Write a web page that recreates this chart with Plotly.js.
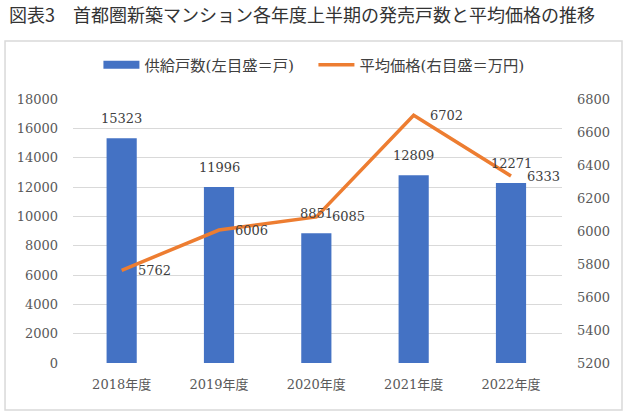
<!DOCTYPE html>
<html>
<head>
<meta charset="utf-8">
<script src="https://cdn.plot.ly/plotly-3.0.1.min.js"></script>
<style>html,body{margin:0;padding:0;background:#fff;}#chart{width:630px;height:416px;}</style>
</head>
<body>
<div id="chart"></div>
<script>
const categories = ["2018年度", "2019年度", "2020年度", "2021年度", "2022年度"];
const supplyUnits = [15323, 11996, 8851, 12809, 12271];
const avgPrice = [5762, 6006, 6085, 6702, 6333];
const leftTicks = [0, 2000, 4000, 6000, 8000, 10000, 12000, 14000, 16000, 18000];
const rightTicks = [5200, 5400, 5600, 5800, 6000, 6200, 6400, 6600, 6800];

const titleText = "図表3　首都圏新築マンション各年度上半期の発売戸数と平均価格の推移";
const barName = "供給戸数(左目盛＝戸)";
const lineName = "平均価格(右目盛＝万円)";

const FONT = "'DejaVu Serif', 'Noto Sans CJK JP', serif";
const BLUE = "#4472C4";
const ORANGE = "#ED7D31";

const traces = [
  {
    type: "bar", x: categories, y: supplyUnits, name: barName, showlegend: false,
    marker: {color: BLUE}, width: 0.31, yaxis: "y", hoverinfo: "skip"
  },
  {
    // legend swatch only (wide rectangle like the original)
    type: "scatter", mode: "lines", x: [null], y: [null], name: barName,
    line: {color: BLUE, width: 8}, yaxis: "y", hoverinfo: "skip", legendrank: 1
  },
  {
    type: "scatter", mode: "lines", x: categories, y: avgPrice, name: lineName,
    line: {color: ORANGE, width: 3.5}, yaxis: "y2", hoverinfo: "skip", legendrank: 2
  }
];

const annotations = [];
categories.forEach((c, i) => {
  annotations.push({x: c, y: supplyUnits[i], xref: "x", yref: "y", text: String(supplyUnits[i]),
    showarrow: false, yanchor: "middle", xanchor: "center", yshift: 20,
    font: {family: FONT, size: 13, color: "#404040"}});
  annotations.push({x: c, y: avgPrice[i], xref: "x", yref: "y2", text: String(avgPrice[i]),
    showarrow: false, yanchor: "middle", xanchor: "left", xshift: 14,
    font: {family: FONT, size: 13, color: "#404040"}});
});
annotations.push({x: 0, xref: "paper", xanchor: "left", xshift: -66, y: 1, yref: "paper", yanchor: "middle", yshift: 85,
  text: titleText, showarrow: false, font: {family: "'Noto Sans CJK JP', sans-serif", size: 18, color: "#333333"}});

const layout = {
  width: 630, height: 416,
  margin: {l: 73, r: 68, t: 99, b: 53},
  paper_bgcolor: "#ffffff", plot_bgcolor: "#ffffff",
  font: {family: FONT, size: 13, color: "#595959"},
  showlegend: true,
  legend: {orientation: "h", x: 0.052, xanchor: "left", y: 1.13, yanchor: "middle",
    font: {family: FONT, size: 15.3, color: "#404040"}, itemwidth: 36, traceorder: "normal",
    entrywidth: 164, entrywidthmode: "pixels", tracegroupgap: 0},
  xaxis: {type: "category", tickfont: {family: FONT, size: 13, color: "#595959"},
    showline: false, ticks: "", showgrid: false, zeroline: false, ticklabelstandoff: 12},
  yaxis: {range: [0, 18000], tickvals: leftTicks, ticktext: leftTicks.map(String),
    showgrid: true, gridcolor: "#d9d9d9", gridwidth: 1, zeroline: false, showline: false,
    ticks: "", ticklabelstandoff: 14, tickfont: {family: FONT, size: 13, color: "#595959"}},
  yaxis2: {range: [5200, 6800], tickvals: rightTicks, ticktext: rightTicks.map(String),
    overlaying: "y", side: "right", showgrid: false, zeroline: false, showline: false,
    ticks: "", ticklabelstandoff: 14, tickfont: {family: FONT, size: 13, color: "#595959"}},
  shapes: [{type: "rect", xref: "paper", yref: "paper",
    x0: -0.139, x1: 1.1227, y0: -0.178, y1: 1.2197,
    line: {color: "#d9d9d9", width: 1.5}, fillcolor: "rgba(0,0,0,0)", layer: "below"}],
  annotations: annotations
};

Plotly.newPlot("chart", traces, layout, {displayModeBar: false, staticPlot: true});
</script>
</body>
</html>
